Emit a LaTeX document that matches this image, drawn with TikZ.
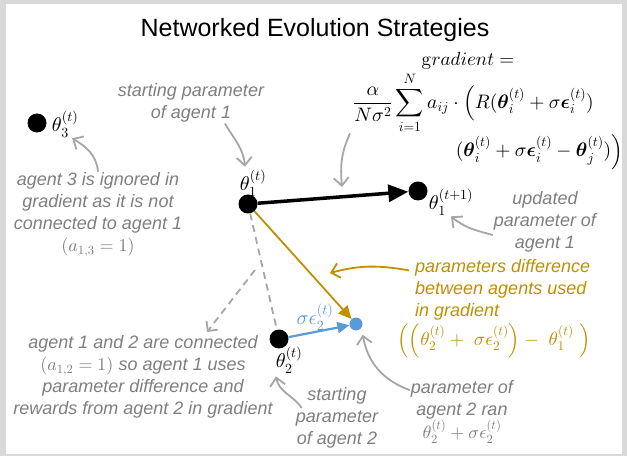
\documentclass[tikz,border=0pt]{standalone}
\usepackage{amsfonts, amsmath, amssymb}
\usepackage[no-math]{fontspec}
\setmainfont{Liberation Sans}
\usepackage{tikz}
\usetikzlibrary{arrows,arrows.meta,positioning}
% scalable math fonts
\DeclareFontShape{OML}{cmm}{m}{it}{<->cmmi10}{}
\DeclareFontShape{OML}{cmm}{b}{it}{<->cmmib10}{}
\DeclareFontShape{OMS}{cmsy}{m}{n}{<->cmsy10}{}
\DeclareFontShape{OMS}{cmsy}{b}{n}{<->cmbsy10}{}
\DeclareFontShape{OMX}{cmex}{m}{n}{<->cmex10}{}
\DeclareFontShape{OT1}{cmr}{m}{n}{<->cmr10}{}
\DeclareFontShape{OT1}{cmr}{bx}{n}{<->cmbx10}{}

\definecolor{framegray}{RGB}{217,217,217}
\definecolor{notegray}{RGB}{127,127,127}
\definecolor{ptrgray}{RGB}{166,166,166}
\definecolor{gold}{RGB}{191,144,0}
\definecolor{eblue}{RGB}{91,155,213}

\begin{document}
\begin{tikzpicture}[>=stealth',x=1pt,y=1pt,
  dot/.style={circle,fill=black,inner sep=0pt,minimum size=19pt},
  edot/.style={circle,fill=eblue,inner sep=0pt,minimum size=13pt},
  lab/.style={inner sep=1pt,font=\fontsize{20}{22}\selectfont},
  note/.style={text=notegray,align=center,inner sep=1pt,font=\fontsize{18}{22}\selectfont\itshape},
  gnote/.style={note,text=gold,align=left},
  formula/.style={inner sep=0pt,font=\fontsize{19.5}{22}\selectfont},
  ptr/.style={-{Straight Barb[length=8pt,width=15pt]},ptrgray,line width=1.8pt},
  grayline/.style={ptrgray,line width=1.8pt,dash pattern=on 7pt off 5pt}]
  \fill[framegray] (0,0) rectangle (627,456);
  \fill[white] (6,2) rectangle (622,452);
  \useasboundingbox (0,0) rectangle (627,456);

  \node[font=\fontsize{25}{30}\selectfont] (title) at (315,426) {Networked Evolution Strategies};

  % agents
  \node[dot] (t3) at (37,333) {};
  \node[dot] (t1) at (248,252) {};
  \node[dot] (tn) at (418,265) {};
  \node[dot] (t2) at (279,117) {};
  \node[edot] (te) at (356,132) {};
  \node[lab] (l3) [right=4pt of t3, yshift=-1pt] {$\theta_3^{(t)}$};
  \node[lab] (l1) [above=-3pt of t1, xshift=5pt] {$\theta_1^{(t)}$};
  \node[lab] (ln) [right=0pt of tn, yshift=-11pt] {$\theta_1^{(t+1)}$};
  \node[lab] (l2) [below=-3pt of t2, xshift=10pt] {$\theta_2^{(t)}$};

  % gradient
  \node[formula,font=\fontsize{19}{22}\selectfont] (gtop) at (468,395) {$\mathrm{g}radient =$};
  \node[formula,anchor=west] (gmid) at (353,353) {$\displaystyle\frac{\alpha}{N\sigma^2}\sum_{i=1}^{N} a_{ij}\cdot\Big(R(\boldsymbol{\theta}_i^{(t)}+\sigma\boldsymbol{\epsilon}_i^{(t)})$};
  \node[formula,anchor=east] (gbot) at (623,304) {$(\boldsymbol{\theta}_i^{(t)}+\sigma\boldsymbol{\epsilon}_i^{(t)}-\boldsymbol{\theta}_j^{(t)})\Big)$};
  \coordinate (gtip) at (342,269);

  % notes
  \node[note] (n1) at (191,353) {starting parameter\\of agent 1};
  \node[note] (n3) at (98,241) {agent 3 is ignored in\\gradient as it is not\\connected to agent 1\\$(a_{1,3} = 1)$};
  \node[note] (n12) at (143,79) {agent 1 and 2 are connected\\$(a_{1,2} = 1)$ so agent 1 uses\\parameter difference and\\rewards from agent 2 in gradient};
  \node[note] (n2) at (337,38) {starting\\parameter\\of agent 2};
  \node[note] (nu) at (545,234) {updated\\parameter of\\agent 1};
  \node[gnote,anchor=west] (ng) at (414,166) {parameters difference\\between agents used\\in gradient};
  \node[lab,text=gold,font=\fontsize{19}{22}\selectfont] (gf) at (494,115) {$\Big(\Big(\theta_2^{(t)}+\ \sigma\epsilon_2^{(t)}\Big)-\ \theta_1^{(t)}\ \Big)$};
  \coordinate (gdtip) at (330,183);
  \node[note] (nr) at (462,44) {parameter of\\agent 2 ran\\$\theta_2^{(t)}+\sigma\epsilon_2^{(t)}$};
  \coordinate (dfrom) at (255,186);
  \coordinate (dto) at (207,124);

  \path
        (t1) edge [-{Triangle[length=20pt,width=17pt]},line width=3.5pt] (tn)
        (t1) edge [-{Triangle[length=13pt,width=12pt]},gold,line width=1.8pt] (te)
        (t2) edge [-{Triangle[length=12pt,width=11pt]},eblue,line width=2.2pt] node[lab,above,text=eblue,xshift=-4pt,yshift=-1pt] {$\sigma\epsilon_2^{(t)}$} (te);
  \path (t1) edge [grayline] (t2)
        (dfrom) edge [grayline,-{Straight Barb[length=7pt,width=14pt]}] (dto);

  \path
        ([xshift=34pt]n1.south) edge [ptr,out=-60,in=95] ([xshift=-8pt,yshift=2pt]l1.north)
        (n3.north) edge [ptr,out=95,in=-30] ([xshift=7pt]l3.south)
        ([xshift=-3pt]gmid.south west) edge [ptr,out=-115,in=95] (gtip)
        ([yshift=-13pt]nu.west) edge [ptr,out=165,in=-40] (ln.south)
        ([xshift=-5pt,yshift=-12pt]ng.north west) edge [ptr,gold,out=170,in=15] (gdtip)
        ([yshift=-11pt]nr.north west) edge [ptr,out=160,in=-80] ([xshift=2pt,yshift=-6pt]te.south east)
        ([xshift=7pt,yshift=10pt]n2.west) edge [ptr,out=125,in=-80] ([xshift=-13pt,yshift=-2pt]l2.south);
\end{tikzpicture}
\end{document}
